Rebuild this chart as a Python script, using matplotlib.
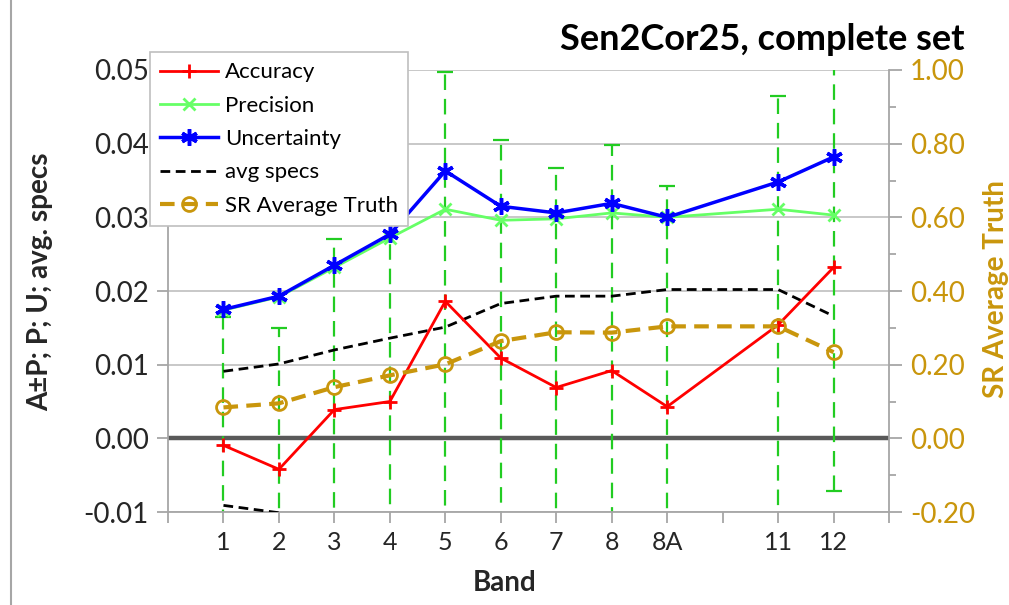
import numpy as np
from matplotlib import pyplot as plt
from matplotlib.lines import Line2D

plt.rcParams['font.family'] = ['Lato', 'DejaVu Sans']

# band labels and their x positions (gap before band 11)
bands = ['1', '2', '3', '4', '5', '6', '7', '8', '8A', '11', '12']
band_pos = [1, 2, 3, 4, 5, 6, 7, 8, 9, 11, 12]

accuracy = [-0.00095, -0.0042, 0.0039, 0.0050, 0.0186, 0.0109, 0.0069, 0.0092, 0.0043, 0.0154, 0.0232]
precision = [0.0174, 0.0192, 0.0232, 0.0272, 0.0311, 0.0296, 0.0298, 0.0306, 0.0300, 0.0311, 0.0303]
uncertainty = [0.0175, 0.0193, 0.0235, 0.0277, 0.0363, 0.0315, 0.0306, 0.0319, 0.0300, 0.0348, 0.0382]
avg_specs = [0.0091, 0.0101, 0.0120, 0.0136, 0.0151, 0.0183, 0.0193, 0.0193, 0.0202, 0.0202, 0.0166]
sr_truth = [0.084, 0.095, 0.139, 0.171, 0.201, 0.264, 0.288, 0.287, 0.304, 0.304, 0.234]

gold = '#c9960c'
grey = '#a6a6a6'

fig = plt.figure(figsize=(10.09, 6.05), dpi=100)
ax = fig.add_axes([0.1665, 0.1537, 0.7146, 0.7306])
ax2 = ax.twinx()

# accuracy +/- precision as green dashed error bars
eb = ax.errorbar(band_pos, accuracy, yerr=precision, fmt='none', ecolor='#22cc22',
                 elinewidth=1.6, capsize=6, capthick=1.6, zorder=2)
for lc in eb[2]:
    lc.set_linestyle((0, (7, 4)))

ax.axhline(0, color='#595959', lw=3.2, zorder=1.5)

l_acc, = ax.plot(band_pos, accuracy, color='#ff0000', lw=2, marker='+', ms=10, mew=2, zorder=4)
l_prec, = ax.plot(band_pos, precision, color='#66ff66', lw=2, marker='x', ms=8, mew=2, zorder=4)
l_unc, = ax.plot(band_pos, uncertainty, color='#0000ff', lw=2.5, marker=(6, 2, 0), ms=12, mew=2.5, zorder=5)
l_spec, = ax.plot(band_pos, avg_specs, color='black', lw=2, ls=(0, (3.5, 2)), zorder=3)
ax.plot(band_pos, [-v for v in avg_specs], color='black', lw=2, ls=(0, (3.5, 2)), zorder=3)

l_sr, = ax2.plot(band_pos, sr_truth, color=gold, lw=3, ls=(0, (3.5, 2)), marker='o', ms=10,
                 mfc='none', mec=gold, mew=2, zorder=4)

ax.set_xlim(0, 13)
ax.set_ylim(-0.01, 0.05)
ax2.set_ylim(-0.2, 1.0)

ax.set_xticks(range(14))
xl = [''] * 14
for p, b in zip(band_pos, bands):
    xl[p] = b
ax.set_xticklabels(xl, fontsize=18, color='#262626')
ax.set_yticks(np.arange(-0.01, 0.051, 0.01))
ax.set_yticklabels(['%.2f' % v for v in np.arange(-0.01, 0.051, 0.01)], fontsize=20, color='#262626')
ax2.set_yticks(np.arange(-0.2, 1.01, 0.2))
ax2.set_yticklabels(['%.2f' % v for v in np.arange(-0.2, 1.01, 0.2)], fontsize=20, color=gold)
ax2.set_yticks(np.arange(-0.1, 1.0, 0.2), minor=True)

ax.grid(axis='y', color='#bfbfbf', lw=1.2)
ax.set_axisbelow(True)

for a in (ax, ax2):
    a.spines['top'].set_visible(False)
    for s in ('left', 'right', 'bottom'):
        a.spines[s].set_color(grey)
        a.spines[s].set_linewidth(1.3)
ax.spines['right'].set_visible(False)
ax2.spines['left'].set_visible(False)
ax2.spines['bottom'].set_visible(False)

ax.tick_params(axis='x', direction='out', length=8, color=grey, width=1.3, pad=6)
ax.tick_params(axis='y', direction='out', length=8, color=grey, width=1.3, pad=6)
ax2.tick_params(axis='y', which='major', direction='out', length=9, color=grey, width=1.3, pad=6)
ax2.tick_params(axis='y', which='minor', direction='out', length=5, color=grey, width=1.3)

fig.text(0.500, 0.036, 'Band', fontsize=20, fontweight='bold', color='#262626',
         ha='center', va='center')
fig.text(0.040, 0.534, 'A±P; P; U; avg. specs', fontsize=20, fontweight='bold', color='#262626',
         ha='center', va='center', rotation=90)
fig.text(0.987, 0.522, 'SR Average Truth', fontsize=20, fontweight='bold', color=gold,
         ha='center', va='center', rotation=90)

fig.text(0.956, 0.934, 'Sen2Cor25, complete set', fontsize=26, fontweight='bold',
         ha='right', va='center', color='black')

leg = ax2.legend([l_acc, l_prec, l_unc, l_spec, l_sr],
                 ['Accuracy', 'Precision', 'Uncertainty', 'avg specs', 'SR Average Truth'],
                 loc='upper left', bbox_to_anchor=(-0.04, 1.065), fontsize=16,
                 frameon=True, fancybox=False, edgecolor='#bfbfbf', framealpha=1,
                 handlelength=2.6, handletextpad=0.3, labelspacing=0.6, borderpad=0.45)
leg.get_frame().set_linewidth(1.2)
leg.set_zorder(10)

fig.add_artist(Line2D([0.011, 0.011], [0, 1], transform=fig.transFigure, color='#a6a6a6', lw=1.5))

plt.savefig('out.png', dpi=100)
